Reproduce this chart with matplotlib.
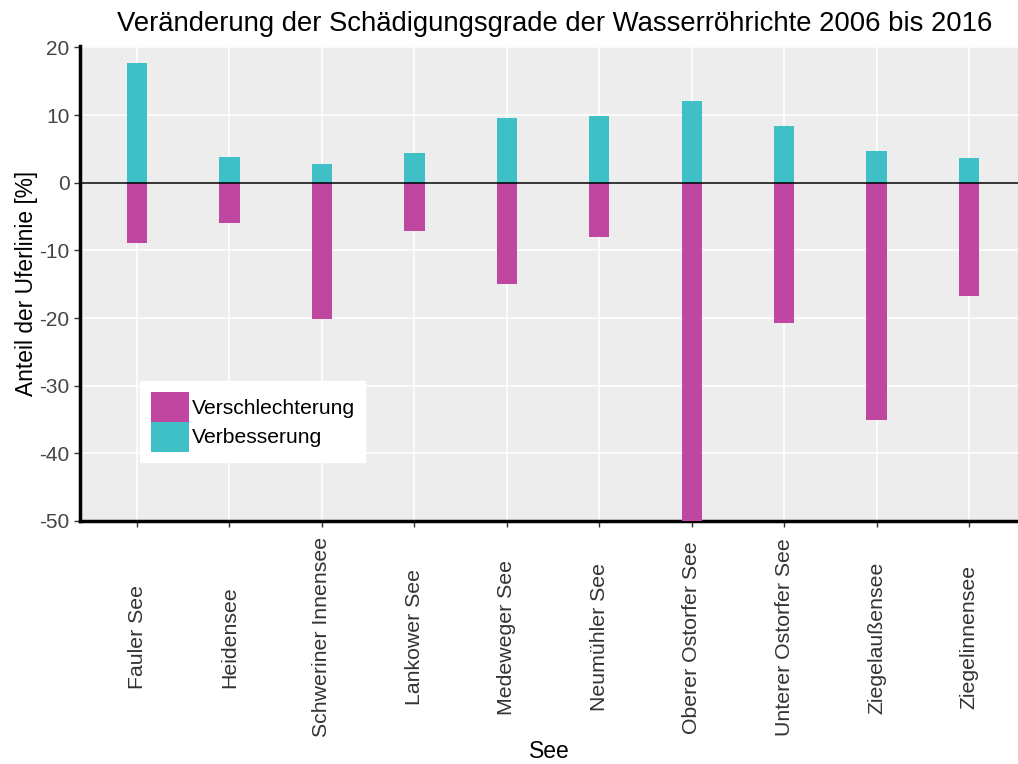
import matplotlib
matplotlib.use("Agg")
import matplotlib.pyplot as plt
import matplotlib.transforms as mtransforms
from matplotlib.patches import Patch
import numpy as np

plt.rcParams['font.family'] = ['Liberation Sans', 'DejaVu Sans']

seen = ["Fauler See", "Heidensee", "Schweriner Innensee", "Lankower See",
        "Medeweger See", "Neumühler See", "Oberer Ostorfer See",
        "Unterer Ostorfer See", "Ziegelaußensee", "Ziegelinnensee"]
verbesserung = [17.7, 3.8, 2.7, 4.4, 9.6, 9.9, 12.1, 8.4, 4.7, 3.7]
verschlechterung = [-8.9, -5.9, -20.2, -7.1, -14.9, -8.1, -52.0, -20.7, -35.0, -16.8]
yticks = [20, 10, 0, -10, -20, -30, -40, -50]

col_schlecht = "#C0479F"
col_besser = "#3FBFC6"

fig = plt.figure(figsize=(10.18, 7.64), dpi=100)
ax = fig.add_axes([80/1018, 1 - 521/764, (1018-80)/1018, (521-46)/764])
ax.set_facecolor("#EDEDED")

x = np.arange(1, len(seen) + 1)
w = 0.22
ax.bar(x, verbesserung, width=w, color=col_besser, zorder=3)
ax.bar(x, verschlechterung, width=w, color=col_schlecht, zorder=3)
ax.axhline(0, color="black", lw=1.1, zorder=4)

ax.set_xlim(0.383, 10.53)
ax.set_ylim(-50, 20.2)
ax.set_yticks(yticks)
ax.set_yticklabels([str(v) for v in yticks], fontsize=15, color="#444444")
ax.set_xticks(x)
ax.set_xticklabels([])
ax.grid(True, which="major", color="white", lw=1.2, zorder=1)
ax.tick_params(axis="both", which="major", length=4, width=1, color="#333333")

for s in ["top", "right"]:
    ax.spines[s].set_visible(False)
for s in ["left", "bottom"]:
    ax.spines[s].set_linewidth(2.5)
    ax.spines[s].set_color("black")

trans = mtransforms.blended_transform_factory(ax.transData, ax.transAxes)
for xi, name in zip(x, seen):
    ax.text(xi, -0.245, name, rotation=90, ha="center", va="center",
            fontsize=15.3, color="#333333", transform=trans)

ax.set_ylabel("Anteil der Uferlinie [%]", fontsize=16.4, labelpad=1)
ax.text(0.5, -0.485, "See", transform=ax.transAxes, ha="center", va="center", fontsize=16.5)
fig.text(555/1018, 1 - 24/764, "Veränderung der Schädigungsgrade der Wasserröhrichte 2006 bis 2016",
         ha="center", va="center", fontsize=19.8)

handles = [Patch(facecolor=col_schlecht), Patch(facecolor=col_besser)]
leg = ax.legend(handles, ["Verschlechterung", "Verbesserung"],
                loc="lower left", bbox_to_anchor=(0.064, 0.124),
                frameon=True, fancybox=False, framealpha=1, edgecolor="white",
                fontsize=15.2, handlelength=1.8, handleheight=1.8,
                handletextpad=0.15, labelspacing=0.0, borderpad=0.5,
                borderaxespad=0.0)
leg.get_frame().set_facecolor("white")

fig.savefig("out.png", dpi=100)
